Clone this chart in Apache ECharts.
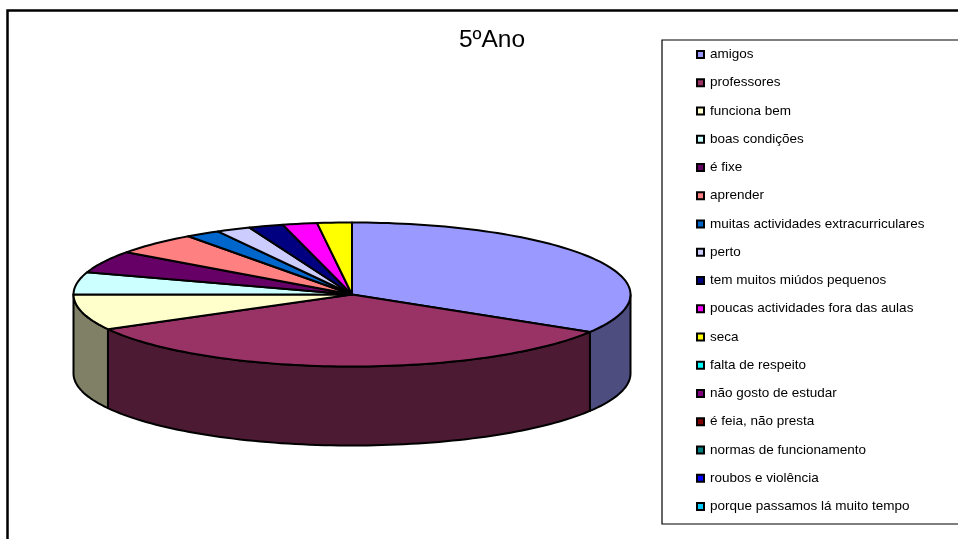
<!DOCTYPE html>
<html><head><meta charset="utf-8">
<style>html,body{margin:0;padding:0;background:#fff}#c{width:958px;height:539px}</style>
<script src="https://cdn.jsdelivr.net/npm/echarts@6/dist/echarts.min.js"></script>
</head><body><div id="c"></div>
<script>
const categories = ["amigos","professores","funciona bem","boas condições","é fixe","aprender","muitas actividades extracurriculares","perto","tem muitos miúdos pequenos","poucas actividades fora das aulas","seca","falta de respeito","não gosto de estudar","é feia, não presta","normas de funcionamento","roubos e violência","porque passamos lá muito tempo"];
const values = [33.7,33.3,8,5,5,5,2,2,2,2,2,0,0,0,0,0,0];
const colors = ["#9999FF","#993366","#FFFFCC","#CCFFFF","#660066","#FF8080","#0066CC","#CCCCFF","#000080","#FF00FF","#FFFF00","#00FFFF","#800080","#800000","#008080","#0000FF","#00CCFF"];
const wallColors = ["#4D4D80","#4D1A33","#808066","#668080","#330033","#804040","#003366","#666680","#000040","#800080","#808000","#008080","#400040","#400000","#004040","#000080","#006680"];

const CX=352, CY=294.5, RX=278.5, RY=72, DEPTH=79;
const total = values.reduce((a,b)=>a+b,0);
const pt=(deg,dy)=>{const r=deg*Math.PI/180;return [CX+RX*Math.sin(r),CY-RY*Math.cos(r)+(dy||0)];};
function arc(a,b,dy){const n=Math.max(2,Math.ceil((b-a)/1.5)),o=[];for(let i=0;i<=n;i++)o.push(pt(a+(b-a)*i/n,dy));return o;}

const series = categories.map((name,i)=>{
  const start = values.slice(0,i).reduce((a,b)=>a+b,0)/total*360;
  const end = start + values[i]/total*360;
  return {
    type:'custom', name, coordinateSystem:'none', silent:true, animation:false, clip:false,
    itemStyle:{color:colors[i]},
    data:[[values[i]]],
    z:2,
    renderItem(){
      if(!values[i]) return {type:'group',children:[]};
      const children=[];
      const a=Math.max(start,90), b=Math.min(end,270);
      if(b>a){
        const top=arc(a,b,0), bot=arc(a,b,DEPTH).reverse();
        children.push({type:'polygon',shape:{points:top.concat(bot)},
          style:{fill:wallColors[i],stroke:'#000',lineWidth:2,lineJoin:'round'}});
      }
      children.push({type:'polygon',shape:{points:[[CX,CY]].concat(arc(start,end,0))},
        style:{fill:colors[i],stroke:'#000',lineWidth:2,lineJoin:'round'}});
      return {type:'group',children};
    }
  };
});

const chart = echarts.init(document.getElementById('c'),null,{renderer:'canvas'});
chart.setOption({
  animation:false,
  backgroundColor:'#fff',
  title:{text:'5ºAno',left:487,top:23,textAlign:'center',
    textStyle:{fontFamily:'Liberation Sans',fontSize:24.5,fontWeight:'normal',color:'#000'}},
  legend:{orient:'vertical',left:696,top:47.5,padding:0,itemWidth:7,itemHeight:7,itemGap:14.25,
    selectedMode:false,icon:'rect',data:categories,
    itemStyle:{borderColor:'#000',borderWidth:2},
    textStyle:{fontFamily:'Liberation Sans',fontSize:13.5,color:'#000',padding:[0,0,0,1]}},
  graphic:[
    {type:'rect',silent:true,z:-1,shape:{x:7.5,y:10.5,width:980,height:560},style:{fill:'none',stroke:'#000',lineWidth:2.5}},
    {type:'rect',silent:true,z:-1,shape:{x:662,y:40,width:320,height:484},style:{fill:'#fff',stroke:'#000',lineWidth:1.2}}
  ],
  series
});
</script></body></html>
